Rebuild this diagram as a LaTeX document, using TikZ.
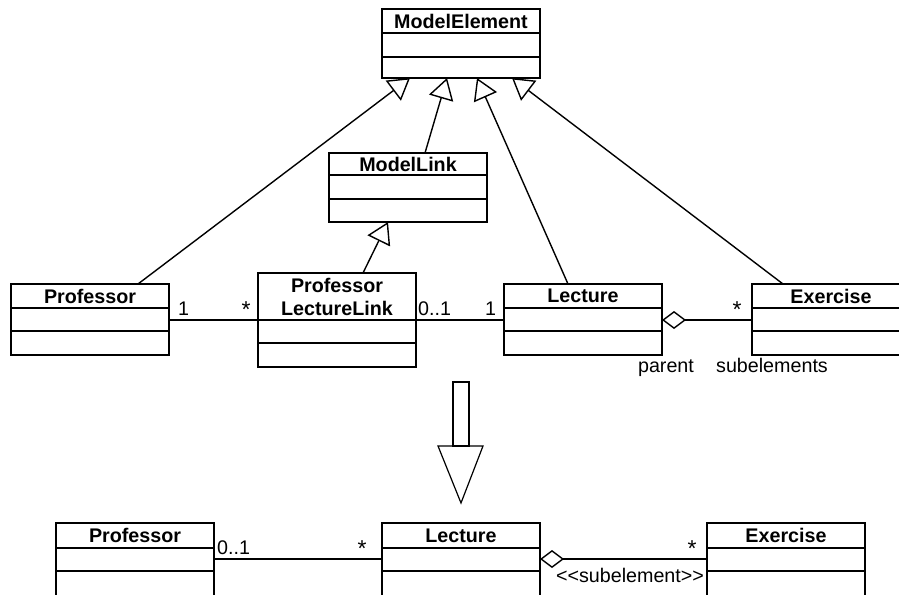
\documentclass[tikz,border=0pt]{standalone}
\usepackage{fontspec}
\setmainfont{Liberation Sans}
\usetikzlibrary{arrows.meta,calc}
\tikzset{
  clsbox/.style={draw, line width=1.6pt, rectangle, inner sep=0pt, outer sep=0pt, anchor=north west, minimum width=158pt},
  clssep/.style={line width=1.6pt},
  clsttl/.style={font=\bfseries\fontsize{19.7}{23}\selectfont, inner sep=0pt, align=center},
  mult/.style={font=\fontsize{19.7}{23}\selectfont, inner sep=0pt, anchor=base},
  star/.style={font=\fontsize{23}{26}\selectfont, inner sep=0pt, anchor=center},
  gen/.style={line width=1.4pt, -{Triangle[open, length=21pt, width=25pt]}},
  assoc/.style={line width=1.4pt},
  agg/.style={line width=1.4pt, {Diamond[open, length=24pt, width=18pt]}-},
  bigarrow/.style={line width=1.2pt}
}
\newcommand\umlclass[7]{%
  \node[clsbox, minimum height=#6pt] (#1) at (#2,#3) {};
  \draw[clssep] ($(#1.north west)+(0,#4)$) -- ($(#1.north east)+(0,#4)$);
  \draw[clssep] ($(#1.north west)+(0,#5)$) -- ($(#1.north east)+(0,#5)$);
  \node[clsttl] (#1-t) at ($(#1.north)+(0,#4/2)$) {#7};
}
\begin{document}
\begin{tikzpicture}[x=1pt,y=-1pt]
\clip (0,0) rectangle (899,594);
% classes
\umlclass{me}{382}{9}{24}{48}{69}{ModelElement}
\umlclass{ml}{329}{153}{22}{46}{69}{ModelLink}
\umlclass{prof}{11}{284}{24}{47}{71}{Professor}
\umlclass{pll}{258}{273}{47}{70}{94}{Professor\\LectureLink}
\umlclass{lec}{504}{284}{24}{47}{71}{Lecture}
\umlclass{ex}{752}{284}{24}{47}{71}{Exercise}
\umlclass{bprof}{56}{523}{25}{48}{73}{Professor}
\umlclass{blec}{382}{523}{25}{48}{73}{Lecture}
\umlclass{bex}{707}{523}{25}{48}{73}{Exercise}
% generalizations
\draw[gen] ($(prof.north west)+(127,0)$) -- ($(me.south west)+(28,0)$);
\draw[gen] ($(ml.north west)+(96,0)$) -- ($(me.south west)+(65,0)$);
\draw[gen] ($(lec.north west)+(64,0)$) -- ($(me.south west)+(95,0)$);
\draw[gen] ($(ex.north west)+(31,0)$) -- ($(me.south west)+(130,0)$);
\draw[gen] ($(pll.north west)+(105,0)$) -- ($(ml.south west)+(59,0)$);
% associations
\draw[assoc] ($(prof.north east)+(0,36)$) -- ($(pll.north west)+(0,47)$);
\draw[assoc] ($(pll.north east)+(0,47)$) -- ($(lec.north west)+(0,36)$);
\draw[agg] ($(lec.north east)+(0,36)$) -- ($(ex.north west)+(0,36)$);
\draw[assoc] ($(bprof.north east)+(0,36)$) -- ($(blec.north west)+(0,36)$);
\draw[agg] ($(blec.north east)+(0,36)$) -- ($(bex.north west)+(0,36)$);
% multiplicities and roles (top)
\node[mult, anchor=base west] (t1) at (178,315) {1};
\node[star] (t2) at (246,309.5) {*};
\node[mult, anchor=base west] (t3) at (418,315) {0..1};
\node[mult, anchor=base west] (t4) at (485,315) {1};
\node[star] (t5) at (737,309.5) {*};
\node[mult] (r1) at (666,372) {parent};
\node[mult] (r2) at (772,372) {subelements};
% multiplicities (bottom)
\node[mult, anchor=base west] (b1) at (217,554) {0..1};
\node[star] (b2) at (362,548.5) {*};
\node[star] (b3) at (692,548.5) {*};
\node[mult] (b4) at (630,582) {{<}{<}subelement{>}{>}};
% transformation arrow
\draw[bigarrow] (453,382) rectangle (469,446);
\draw[bigarrow] (438,446) -- (483,446) -- (461,503) -- cycle;
\end{tikzpicture}
\end{document}
